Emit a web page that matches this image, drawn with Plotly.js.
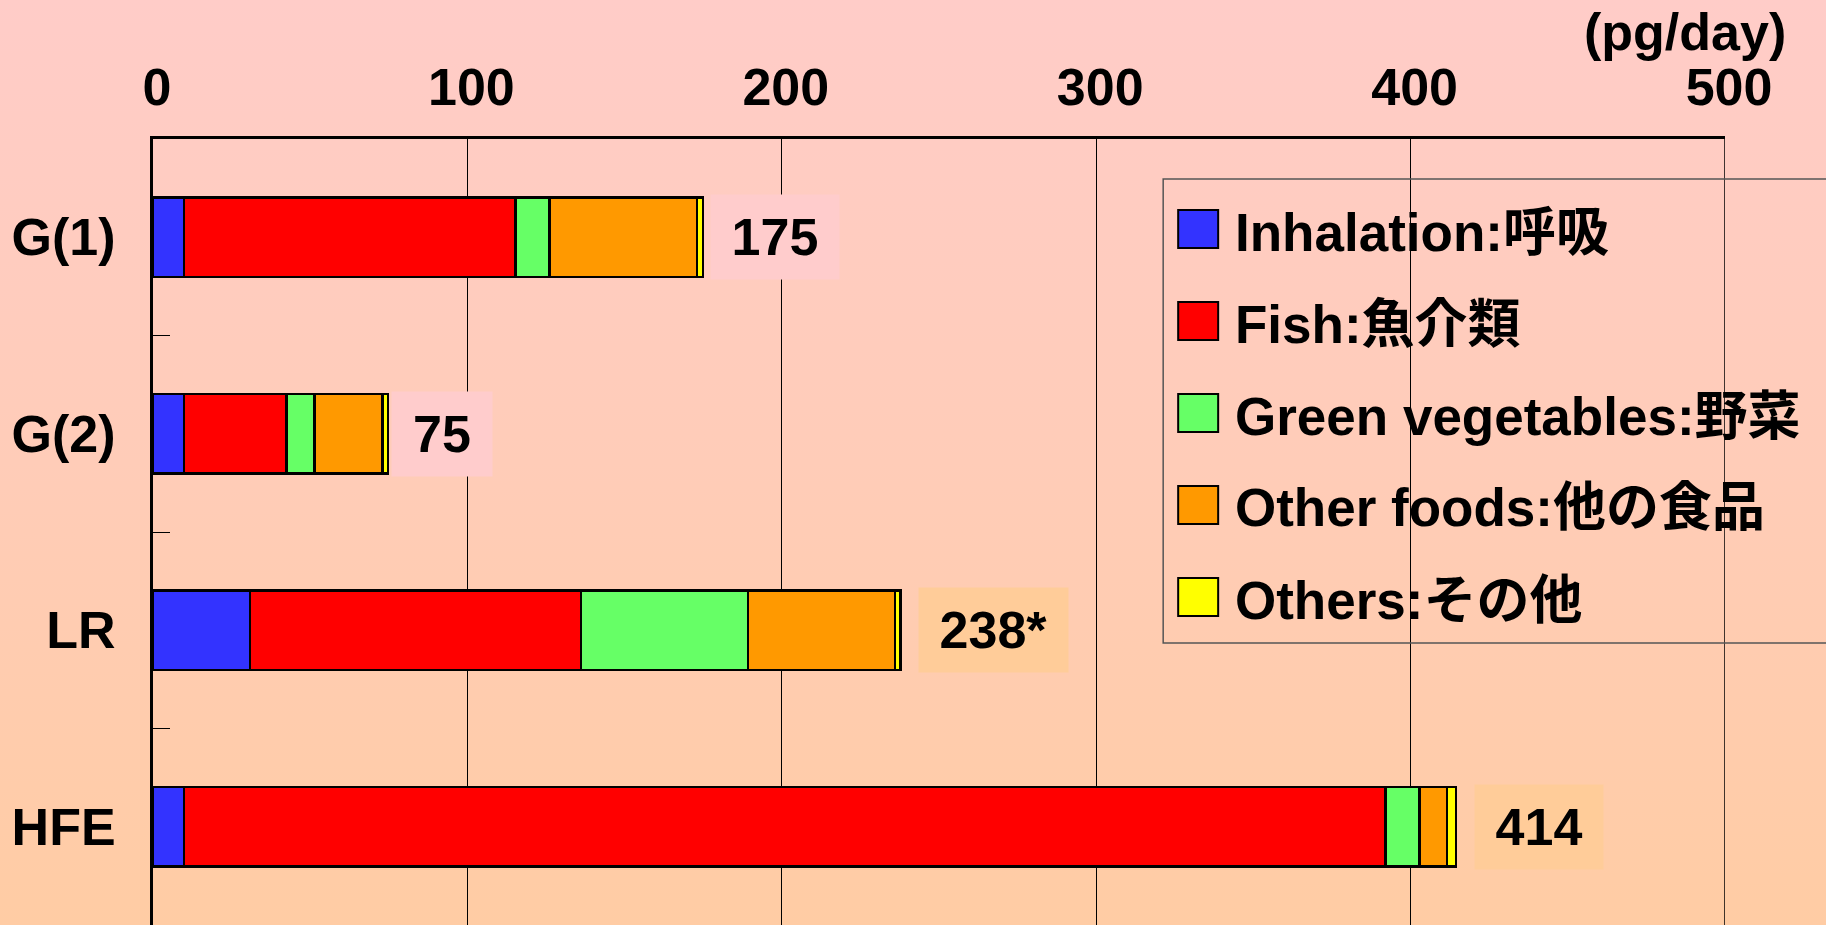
<!DOCTYPE html>
<html>
<head>
<meta charset="utf-8">
<script src="https://cdn.plot.ly/plotly-3.0.1.min.js"></script>
<style>
  html, body { margin: 0; padding: 0; }
  body { width: 1826px; height: 925px; overflow: hidden;
         background: linear-gradient(to bottom, #FFCCC8 0%, #FFCCB8 50%, #FFCCA4 100%); }
  #chart { width: 1826px; height: 925px; }
</style>
</head>
<body>
<div id="chart"></div>
<script>
// ---- data ----
const categories = ["G(1)", "G(2)", "LR", "HFE"];
const seriesNames = ["Inhalation:呼吸", "Fish:魚介類", "Green vegetables:野菜", "Other foods:他の食品", "Others:その他"];
const inhalation = [9.8, 9.9, 30.8, 9.8];
const fish = [105.5, 32.5, 105.4, 382.2];
const greenVegetables = [10.8, 8.9, 53.0, 10.8];
const otherFoods = [47.0, 21.7, 46.8, 8.8];
const others = [1.9, 1.8, 1.8, 2.8];
const totalLabels = ["175", "75", "238*", "414"];
const xTicks = [0, 100, 200, 300, 400, 500];
const unitLabel = "(pg/day)";

// ---- styles ----
const seriesColors = ["#3333FF", "#FF0000", "#66FF66", "#FF9900", "#FFFF00"];
const FONT = '"Liberation Sans", Arial, "Noto Sans CJK JP", sans-serif';
const seriesValues = [inhalation, fish, greenVegetables, otherFoods, others];

const L = 152.5, R = 1725, T = 139, B = 925;
const px = v => (v - L) / (R - L);
const py = v => (B - v) / (B - T);

const traces = seriesValues.map((vals, i) => ({
  type: "bar",
  orientation: "h",
  name: seriesNames[i],
  x: vals,
  y: categories,
  width: 0.405,
  marker: { color: seriesColors[i], line: { color: "#000", width: 2.5 } },
  hoverinfo: "x+name",
  showlegend: false
}));

const totals = categories.map((c, k) => seriesValues.reduce((s, arr) => s + arr[k], 0));
const boxW = [128, 100, 149, 128];
const boxShift = [7, 3, 17, 18];
const boxColor = ["#FFCCCC", "#FFCCCC", "#FFCC99", "#FFCC99"];

const annotations = categories.map((c, k) => ({
  xref: "x", yref: "y", x: totals[k], y: c,
  xanchor: "left", yanchor: "middle", xshift: boxShift[k],
  text: "<b>" + totalLabels[k] + "</b>",
  showarrow: false, width: boxW[k], height: 84, borderpad: 0,
  bgcolor: boxColor[k], align: "center", valign: "middle",
  font: { family: FONT, size: 52, color: "#000" }
}));

annotations.push({
  xref: "paper", yref: "paper", x: px(1788), y: py(32),
  xanchor: "right", yanchor: "middle", showarrow: false,
  text: "<b>" + unitLabel + "</b>",
  font: { family: FONT, size: 52, color: "#000" }
});

const shapes = [
  { type: "line", xref: "x", yref: "paper", x0: 500, x1: 500, y0: 0, y1: 1,
    line: { color: "#000", width: 1.5 } },
  { type: "rect", xref: "paper", yref: "paper", x0: px(1163), x1: px(1845), y0: py(643), y1: py(179),
    line: { color: "#555", width: 1.5 }, fillcolor: "rgba(0,0,0,0)" }
];

seriesNames.forEach((n, i) => {
  const c = 229 + 92 * i;
  shapes.push({ type: "rect", xref: "paper", yref: "paper",
    x0: px(1178), x1: px(1218), y0: py(c + 19), y1: py(c - 19),
    line: { color: "#000", width: 2 }, fillcolor: seriesColors[i] });
  annotations.push({ xref: "paper", yref: "paper", x: px(1233), y: py(c + 3),
    xanchor: "left", yanchor: "middle", showarrow: false,
    text: "<b>" + n + "</b>",
    font: { family: FONT, size: 53, color: "#000" } });
});

const layout = {
  width: 1826, height: 925,
  margin: { l: L, r: 1826 - R, t: T, b: 0, pad: 0 },
  paper_bgcolor: "rgba(0,0,0,0)",
  plot_bgcolor: "rgba(0,0,0,0)",
  barmode: "stack",
  showlegend: false,
  font: { family: FONT, color: "#000" },
  xaxis: {
    side: "top", range: [0, 500], tickvals: xTicks, ticktext: xTicks.map(v => "<b>" + v + "</b>"),
    showgrid: true, gridcolor: "#000", gridwidth: 1,
    zeroline: false, showline: true, linecolor: "#000", linewidth: 3,
    ticks: "", ticklabelstandoff: 10, ticklabelshift: 4,
    tickfont: { family: FONT, size: 52, color: "#000" }
  },
  yaxis: {
    type: "category", range: [3.5, -0.5],
    tickvals: categories, ticktext: categories.map(c => "<b>" + c + "</b>"),
    tickson: "boundaries", ticks: "inside", ticklen: 17, tickwidth: 1, tickcolor: "#000",
    showgrid: false, zeroline: false,
    showline: true, linecolor: "#000", linewidth: 3,
    ticklabelstandoff: 24,
    tickfont: { family: FONT, size: 52, color: "#000" }
  },
  shapes: shapes,
  annotations: annotations
};

Plotly.newPlot("chart", traces, layout, { displayModeBar: false, staticPlot: true });
</script>
</body>
</html>
